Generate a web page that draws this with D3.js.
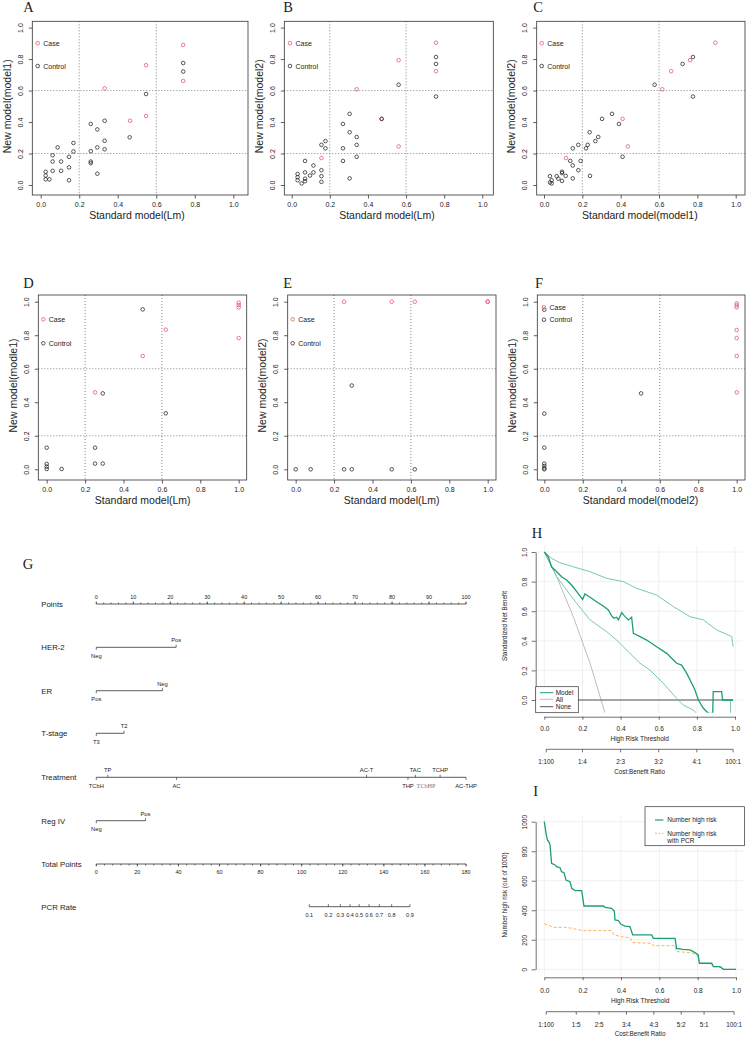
<!DOCTYPE html>
<html>
<head>
<meta charset="utf-8">
<script src="https://cdn.jsdelivr.net/npm/d3@7"></script>
<style>
  body{margin:0;background:#fff}
  svg{display:block;font-family:"Liberation Sans",Arial,sans-serif}
</style>
</head>
<body>
<div id="fig"></div>
<script>
// ---------- scatter panels A–F: [standard model, new model] ----------
const aCase=[[0.74,0.89],[0.547,0.761],[0.74,0.661],[0.332,0.614],[0.464,0.408],[0.547,0.438]];
const aControl=[[0.74,0.775],[0.74,0.721],[0.547,0.578],[0.26,0.388],[0.332,0.408],[0.294,0.353],[0.462,0.303],
  [0.332,0.281],[0.294,0.239],[0.332,0.227],[0.26,0.215],[0.26,0.149],[0.26,0.139],[0.294,0.072],[0.17,0.267],
  [0.17,0.213],[0.088,0.239],[0.147,0.179],[0.062,0.189],[0.062,0.149],[0.106,0.149],[0.106,0.09],[0.062,0.09],
  [0.147,0.112],[0.147,0.03],[0.026,0.084],[0.026,0.06],[0.026,0.036],[0.045,0.036]];

const bCase=[[0.757,0.904],[0.561,0.793],[0.757,0.723],[0.341,0.608],[0.561,0.245],[0.156,0.171],[0.472,0.42]];
const bControl=[[0.757,0.813],[0.757,0.769],[0.561,0.637],[0.757,0.562],[0.472,0.42],[0.304,0.452],[0.269,0.388],
  [0.304,0.335],[0.341,0.305],[0.341,0.255],[0.269,0.233],[0.341,0.179],[0.269,0.153],[0.304,0.042],[0.177,0.279],
  [0.156,0.255],[0.177,0.233],[0.07,0.153],[0.114,0.124],[0.156,0.094],[0.156,0.056],[0.156,0.02],[0.07,0.08],
  [0.114,0.08],[0.096,0.06],[0.07,0.04],[0.07,0.024],[0.052,0.01],[0.031,0.07],[0.031,0.05],[0.031,0.03]];

const cCase=[[0.894,0.904],[0.762,0.793],[0.663,0.723],[0.617,0.608],[0.41,0.42],[0.437,0.245],[0.115,0.171]];
const cControl=[[0.777,0.813],[0.723,0.769],[0.577,0.637],[0.777,0.562],[0.355,0.452],[0.303,0.42],[0.391,0.388],
  [0.238,0.335],[0.283,0.305],[0.268,0.279],[0.228,0.255],[0.41,0.179],[0.179,0.255],[0.15,0.233],[0.219,0.233],
  [0.191,0.153],[0.137,0.153],[0.15,0.124],[0.179,0.094],[0.15,0.042],[0.24,0.058],[0.113,0.058],[0.094,0.076],
  [0.094,0.084],[0.066,0.056],[0.075,0.04],[0.094,0.026],[0.031,0.056],[0.04,0.03],[0.031,0.016],[0.04,0.01]];

const dCase=[[1,0.994],[1,0.98],[1,0.966],[1,0.783],[0.62,0.833],[0.5,0.676],[0.252,0.459]];
const dControl=[[0.5,0.954],[0.292,0.453],[0.62,0.334],[0,0.129],[0.252,0.129],[0.252,0.034],[0.292,0.034],
  [0,0.032],[0,0.016],[0,0.002],[0.078,0.002]];

const eCase=[[0.252,1],[0.5,1],[0.62,1],[1,1],[1,1]];
const eControl=[[0.292,0.5],[0,0],[0.078,0],[0.252,0],[0.292,0],[0.5,0],[0.62,0]];

const fCase=[[1,0.99],[1,0.978],[1,0.966],[1,0.831],[1,0.783],[1,0.676],[1,0.459]];
const fControl=[[0.503,0.453],[0,0.332],[0,0.129],[0,0.034],[0,0.02],[0,0.006],[0,0],[0,0.952]];

const scatterTicks=[0,0.2,0.4,0.6,0.8,1.0];
const refLines=[0.2,0.6];
const legendLabels=["Case","Control"];

// ---------- nomogram G ----------
const pointsTicks=[0,10,20,30,40,50,60,70,80,90,100];
const her2Levels=["Neg","Pos"],       her2Points=[0,21.6];
const erLevels=["Pos","Neg"],         erPoints=[0,17.9];
const tStageLevels=["T3","T2"],       tStagePoints=[0,7.5];
const treatmentLevels=["TCbH","TP","AC","AC-T","THP","TAC","TCbHP","TCHP","AC-THP"];
const treatmentPoints=[0,3.1,21.7,73.1,84.3,86.3,89.2,93,100];
const regIVLevels=["Neg","Pos"],      regIVPoints=[0,13.3];
const totalPointsTicks=[0,20,40,60,80,100,120,140,160,180];
const pcrRates=["0.1","0.2","0.3","0.4","0.5","0.6","0.7","0.8","0.9"];
const pcrTotalPoints=[103.7,113,118.8,123.5,128,132.8,137.8,143.8,152.7];

// ---------- decision curve H ----------
const hModel=[[0,1],[0.021,0.968],[0.038,0.9],[0.065,0.867],[0.091,0.833],[0.117,0.811],[0.143,0.777],[0.17,0.732],
  [0.201,0.68],[0.213,0.716],[0.24,0.694],[0.274,0.664],[0.309,0.635],[0.336,0.608],[0.353,0.568],[0.365,0.552],
  [0.379,0.559],[0.388,0.541],[0.406,0.59],[0.423,0.563],[0.441,0.541],[0.458,0.559],[0.467,0.45],[0.502,0.428],
  [0.537,0.405],[0.589,0.36],[0.642,0.315],[0.677,0.27],[0.694,0.248],[0.72,0.236],[0.747,0.18],[0.773,0.113],
  [0.79,0.068],[0.808,0],[0.834,-0.056],[0.86,-0.09],[0.883,-0.09],[0.886,0.056],[0.93,0.056],[0.935,0],[0.99,0]];
const hUpper=[[0,1],[0.038,0.957],[0.082,0.928],[0.152,0.9],[0.24,0.867],[0.327,0.822],[0.414,0.8],[0.484,0.755],
  [0.589,0.709],[0.677,0.631],[0.764,0.563],[0.834,0.541],[0.904,0.473],[0.965,0.439],[0.983,0.428],[0.99,0.36]];
const hLower=[[0,1],[0.03,0.923],[0.065,0.833],[0.117,0.743],[0.17,0.653],[0.24,0.541],[0.327,0.462],[0.379,0.405],
  [0.449,0.315],[0.502,0.248],[0.554,0.203],[0.624,0.113],[0.694,0.011],[0.729,-0.034],[0.781,-0.068],[0.799,-0.09],
  null,[0.935,0],[0.977,0],[0.977,-0.09]];
const hAll=[[0,1],[0.065,0.833],[0.152,0.563],[0.24,0.248],[0.318,-0.086]];
const hNone=[[0,0],[0.99,0]];
const hLegend=["Model","All","None"];
const hCostBenefit=["1:100","1:4","2:3","3:2","4:1","100:1"];

// ---------- clinical impact I ----------
const iHighRisk=[[0,1000],[0.009,921],[0.016,876],[0.026,858],[0.03,842],[0.038,718],[0.056,707],[0.064,695],
  [0.082,688],[0.09,661],[0.103,655],[0.113,605],[0.134,594],[0.143,549],[0.16,533],[0.195,533],[0.207,429],
  [0.308,429],[0.317,420],[0.351,413],[0.365,395],[0.369,334],[0.386,330],[0.4,305],[0.421,293],[0.447,289],
  [0.461,233],[0.56,233],[0.569,210],[0.682,210],[0.69,142],[0.722,135],[0.76,131],[0.786,113],[0.803,97],
  [0.809,41],[0.873,41],[0.882,18],[0.917,18],[0.934,0],[1,0]];
const iHighRiskPCR=[[0,307],[0.021,300],[0.047,284],[0.117,284],[0.169,271],[0.203,262],[0.273,262],[0.351,262],
  [0.363,233],[0.403,221],[0.447,214],[0.461,181],[0.56,176],[0.569,160],[0.682,160],[0.69,120],[0.76,113],
  [0.795,97],[0.809,41],[0.873,36],[0.882,18],[0.917,14],[0.934,0],[1,0]];
const iLegend=["Number high risk","Number high risk","with PCR"];
const iCostBenefit=["1:100","1:5","2:5","3:4","4:3","5:2","5:1","100:1"];

// ------------------------------------------------------------------
const W=746,H=1038;
const svg=d3.select("#fig").append("svg").attr("width",W).attr("height",H);
const CASE="#DF536B",CONTROL="#222";
const serif='"Liberation Serif","Times New Roman",serif';
const fmt1=d3.format(".1f");

function letter(t,x,y){
  svg.append("text").attr("x",x).attr("y",y).attr("font-family",serif)
    .attr("font-size",14.5).attr("fill","#222").text(t);
}

// ---------- A–F ----------
// top row panels are a little shorter than the bottom row in the source figure
const panels=[
  {id:"A",cs:aCase,ct:aControl,xt:"Standard model(Lm)",yt:"New model(model1)",box:[32.3,21.3,248,195],xr:[40.7,233.3],yr:[185,27.6],lg:[37.7,43.2,66],lt:[23.3,11.8]},
  {id:"B",cs:bCase,ct:bControl,xt:"Standard model(Lm)",yt:"New model(model2)",box:[284.3,21.3,493.3,195],xr:[291.7,482.3],yr:[185,27.6],lg:[290,43.2,66],lt:[283.3,11.8]},
  {id:"C",cs:cCase,ct:cControl,xt:"Standard model(model1)",yt:"New model(model2)",box:[536.7,21.3,745,195],xr:[544,735.7],yr:[185,27.6],lg:[541.7,43.2,66],lt:[533.3,11.8]},
  {id:"D",cs:dCase,ct:dControl,xt:"Standard model(Lm)",yt:"New model(modle1)",box:[38.3,295,246.7,480],xr:[46.7,238.7],yr:[469.3,301.7],lg:[43.3,319.3,343.3],lt:[23.3,288.3]},
  {id:"E",cs:eCase,ct:eControl,xt:"Standard model(Lm)",yt:"New model(model2)",box:[287.7,295,496,480],xr:[295.7,487.7],yr:[469.3,301.7],lg:[292.7,319.3,343.3],lt:[283.3,288.3]},
  {id:"F",cs:fCase,ct:fControl,xt:"Standard model(model2)",yt:"New model(modle1)",box:[537.3,295,745,480],xr:[544.3,736.7],yr:[469.3,301.7],lg:[544,307.3,319.7],lt:[535,288.3]}
];

panels.forEach(p=>{
  const [l,t,r,b]=p.box;
  const x=d3.scaleLinear([0,1],p.xr), y=d3.scaleLinear([0,1],p.yr);
  const g=svg.append("g");

  refLines.forEach(v=>{
    g.append("line").attr("x1",x(v)).attr("x2",x(v)).attr("y1",t).attr("y2",b)
      .attr("stroke","#777").attr("stroke-width",0.9).attr("stroke-dasharray","1,2");
    g.append("line").attr("x1",l).attr("x2",r).attr("y1",y(v)).attr("y2",y(v))
      .attr("stroke","#777").attr("stroke-width",0.9).attr("stroke-dasharray","1,2");
  });
  g.append("rect").attr("x",l).attr("y",t).attr("width",r-l).attr("height",b-t)
    .attr("fill","none").attr("stroke","#333").attr("stroke-width",0.8);

  const xa=g.append("g").attr("transform",`translate(0,${b})`)
    .call(d3.axisBottom(x).tickValues(scatterTicks).tickFormat(fmt1).tickSize(3.5).tickSizeOuter(0));
  xa.selectAll("text").attr("font-size",7).attr("fill","#222").attr("y",7.5).attr("dy","0.71em");
  const ya=g.append("g").attr("transform",`translate(${l},0)`)
    .call(d3.axisLeft(y).tickValues(scatterTicks).tickFormat(fmt1).tickSize(3.5).tickSizeOuter(0));
  ya.selectAll("text").attr("font-size",7).attr("fill","#222")
    .attr("transform","rotate(-90)").attr("x",0).attr("y",-9.5).attr("dy",0).attr("text-anchor","middle");
  [xa,ya].forEach(a=>{a.selectAll("path,line").attr("stroke","#333").attr("stroke-width",0.8);a.select(".domain").remove();});

  g.selectAll(".case").data(p.cs).join("circle").attr("class","case")
    .attr("cx",d=>x(d[0])).attr("cy",d=>y(d[1])).attr("r",1.8)
    .attr("fill","none").attr("stroke",CASE).attr("stroke-width",0.75);
  g.selectAll(".ctrl").data(p.ct).join("circle").attr("class","ctrl")
    .attr("cx",d=>x(d[0])).attr("cy",d=>y(d[1])).attr("r",1.8)
    .attr("fill","none").attr("stroke",CONTROL).attr("stroke-width",0.75);

  legendLabels.forEach((lab,i)=>{
    const ly=p.lg[1+i];
    g.append("circle").attr("cx",p.lg[0]).attr("cy",ly).attr("r",1.8)
      .attr("fill","none").attr("stroke",i?CONTROL:CASE).attr("stroke-width",0.75);
    g.append("text").attr("x",p.lg[0]+5.5).attr("y",ly+2.5).attr("font-size",7).attr("fill","#222").text(lab);
  });

  g.append("text").attr("x",(p.xr[0]+p.xr[1])/2).attr("y",b+23.5).attr("text-anchor","middle")
    .attr("font-size",10.5).attr("fill","#222").text(p.xt);
  g.append("text").attr("transform",`translate(${l-21.3},${(p.yr[0]+p.yr[1])/2}) rotate(-90)`)
    .attr("text-anchor","middle").attr("font-size",10.5).attr("fill","#222").text(p.yt);
  letter(p.id,p.lt[0],p.lt[1]);
});

// ---------- G nomogram ----------
letter("G",22.7,569);
const nomo=svg.append("g");
const px=d3.scaleLinear([0,100],[96.3,466]);
const tx=d3.scaleLinear([0,180],[96.3,466]);
const INK="#333";

function rowLabel(t,y){
  nomo.append("text").attr("x",41.3).attr("y",y+2.8).attr("font-size",7.8).attr("fill","#222").text(t);
}
function hline(x1,x2,y){
  nomo.append("line").attr("x1",x1).attr("x2",x2).attr("y1",y).attr("y2",y).attr("stroke",INK).attr("stroke-width",0.8);
}
function tick(x,y,len){
  nomo.append("line").attr("x1",x).attr("x2",x).attr("y1",y).attr("y2",y+len).attr("stroke",INK).attr("stroke-width",0.7);
}

// Points scale
const yPts=604;
rowLabel("Points",yPts);
hline(px(0),px(100),yPts);
d3.range(0,101,2).forEach(v=>tick(px(v),yPts,-1.5));
pointsTicks.forEach(v=>{
  tick(px(v),yPts,-2.5);
  nomo.append("text").attr("x",px(v)).attr("y",yPts-5).attr("text-anchor","middle")
    .attr("font-size",5.5).attr("fill","#222").text(v);
});

function factorRow(name,levels,pts,y){
  rowLabel(name,y);
  hline(px(d3.min(pts)),px(d3.max(pts)),y);
  levels.forEach((lev,i)=>{
    const up=i%2===1;
    const special=lev==="TCbHP";
    if(!special) tick(px(pts[i]),y,up?-2.5:2.5);
    nomo.append("text").attr("x",px(pts[i])).attr("y",up?y-5:y+10.7)
      .attr("text-anchor","middle")
      .attr("font-family",special?serif:null)
      .attr("font-size",special?6.2:5.8)
      .attr("fill",special?"#6a7690":"#222").text(lev);
  });
}
factorRow("HER-2",her2Levels,her2Points,647.3);
factorRow("ER",erLevels,erPoints,690.7);
factorRow("T-stage",tStageLevels,tStagePoints,733.3);
factorRow("Treatment",treatmentLevels,treatmentPoints,777.3);
factorRow("Reg IV",regIVLevels,regIVPoints,820.7);

// Total points
const yTot=864;
rowLabel("Total Points",yTot);
hline(tx(0),tx(180),yTot);
d3.range(0,181,4).forEach(v=>tick(tx(v),yTot,1.5));
totalPointsTicks.forEach(v=>{
  tick(tx(v),yTot,2.5);
  nomo.append("text").attr("x",tx(v)).attr("y",yTot+10).attr("text-anchor","middle")
    .attr("font-size",5.5).attr("fill","#222").text(v);
});

// PCR rate
const yPcr=906.7;
rowLabel("PCR Rate",yPcr);
hline(tx(d3.min(pcrTotalPoints)),tx(d3.max(pcrTotalPoints)),yPcr);
pcrRates.forEach((r,i)=>{
  tick(tx(pcrTotalPoints[i]),yPcr,-2.5);
  nomo.append("text").attr("x",tx(pcrTotalPoints[i])).attr("y",yPcr+10.3).attr("text-anchor","middle")
    .attr("font-size",5.5).attr("fill","#222").text(r);
});

// ---------- shared helpers for H and I ----------
const GRID="#ececec";
const ratioPos=s=>{const [a,b]=s.split(":").map(Number);return a/(a+b);};

function thresholdAxes(g,x,yAxisLine,labelY,titleY,cbLine,cbLabels,cbLabelY,cbTitleY){
  const xa=g.append("g").attr("transform",`translate(0,${yAxisLine})`)
    .call(d3.axisBottom(x).tickValues([0,0.2,0.4,0.6,0.8,1]).tickFormat(fmt1).tickSize(3).tickSizeOuter(0));
  xa.selectAll("text").attr("font-size",6.5).attr("fill","#222").attr("y",labelY-yAxisLine).attr("dy","0.35em");
  xa.selectAll("path,line").attr("stroke","#333").attr("stroke-width",0.7);
  g.append("text").attr("x",(x(0)+x(1))/2).attr("y",titleY+2.3).attr("text-anchor","middle")
    .attr("font-size",6.5).attr("fill","#222").text("High Risk Threshold");

  const cb=g.append("g").attr("transform",`translate(0,${cbLine})`);
  const pos=cbLabels.map(s=>Math.min(Math.max(ratioPos(s),0.01),0.99));
  cb.append("line").attr("x1",x(d3.min(pos))).attr("x2",x(d3.max(pos)))
    .attr("stroke","#333").attr("stroke-width",0.7);
  cbLabels.forEach((s,i)=>{
    cb.append("line").attr("x1",x(pos[i])).attr("x2",x(pos[i])).attr("y1",0).attr("y2",3)
      .attr("stroke","#333").attr("stroke-width",0.7);
    cb.append("text").attr("x",x(pos[i])).attr("y",cbLabelY-cbLine+2.3).attr("text-anchor","middle")
      .attr("font-size",6.3).attr("fill","#222").text(s);
  });
  g.append("text").attr("x",(x(0)+x(1))/2).attr("y",cbTitleY+2.3).attr("text-anchor","middle")
    .attr("font-size",6.3).attr("fill","#222").text("Cost:Benefit Ratio");
}

// ---------- H decision curve ----------
letter("H",531.7,538.3);
{
  const g=svg.append("g");
  const x=d3.scaleLinear([0,1],[544.3,735]);
  const y=d3.scaleLinear([0,1],[700,552]);
  const xl=-0.04,xh=1.04,yl=-0.086,yh=1.04;
  [0,0.2,0.4,0.6,0.8,1].forEach(v=>{
    g.append("line").attr("x1",x(v)).attr("x2",x(v)).attr("y1",y(yl)).attr("y2",y(yh)).attr("stroke",GRID).attr("stroke-width",0.8);
    g.append("line").attr("x1",x(xl)).attr("x2",x(xh)).attr("y1",y(v)).attr("y2",y(v)).attr("stroke",GRID).attr("stroke-width",0.8);
  });
  svg.append("clipPath").attr("id","clipH").append("rect")
    .attr("x",x(xl)).attr("y",y(yh)).attr("width",x(xh)-x(xl)).attr("height",y(yl)-y(yh));
  const line=d3.line().defined(d=>d!==null).x(d=>x(d[0])).y(d=>y(d[1]));
  const pl=g.append("g").attr("clip-path","url(#clipH)");
  pl.append("path").attr("d",line(hAll)).attr("fill","none").attr("stroke","#bdbdbd").attr("stroke-width",1);
  pl.append("path").attr("d",line(hNone)).attr("fill","none").attr("stroke","#555").attr("stroke-width",1);
  pl.append("path").attr("d",line(hUpper)).attr("fill","none").attr("stroke","#66c2a5").attr("stroke-width",0.9);
  pl.append("path").attr("d",line(hLower)).attr("fill","none").attr("stroke","#66c2a5").attr("stroke-width",0.9);
  pl.append("path").attr("d",line(hModel)).attr("fill","none").attr("stroke","#1b9e77").attr("stroke-width",1.3);

  const ya=g.append("g").attr("transform","translate(535.7,0)")
    .call(d3.axisLeft(y).tickValues([0,0.2,0.4,0.6,0.8,1]).tickFormat(fmt1).tickSize(4).tickSizeOuter(0));
  ya.selectAll("text").attr("font-size",6.5).attr("fill","#222")
    .attr("transform","rotate(-90)").attr("x",0).attr("y",-8.5).attr("dy",0).attr("text-anchor","middle");
  ya.selectAll("path,line").attr("stroke","#333").attr("stroke-width",0.7);
  g.append("text").attr("transform","translate(507.2,626) rotate(-90)").attr("text-anchor","middle")
    .attr("font-size",6.3).attr("fill","#222").text("Standardized Net Benefit");

  thresholdAxes(g,x,716.7,728.3,738.3,749.3,hCostBenefit,761.7,771.7);

  // legend
  g.append("rect").attr("x",535.7).attr("y",686.7).attr("width",42.6).attr("height",26)
    .attr("fill","#fff").attr("stroke","#333").attr("stroke-width",0.7);
  const lc=["#1b9e77","#bdbdbd","#555"], ly=[692.7,699.3,706.7];
  hLegend.forEach((t,i)=>{
    g.append("line").attr("x1",540).attr("x2",553.3).attr("y1",ly[i]).attr("y2",ly[i])
      .attr("stroke",lc[i]).attr("stroke-width",1);
    g.append("text").attr("x",555.7).attr("y",ly[i]+2.2).attr("font-size",6.5).attr("fill","#222").text(t);
  });
}

// ---------- I clinical impact ----------
letter("I",533.3,796);
{
  const g=svg.append("g");
  const x=d3.scaleLinear([0,1],[544.3,736]);
  const y=d3.scaleLinear([0,1000],[969.3,821.7]);
  const xl=-0.04,xh=1.04,yl=-40,yh=1040;
  [0,0.2,0.4,0.6,0.8,1].forEach(v=>{
    g.append("line").attr("x1",x(v)).attr("x2",x(v)).attr("y1",y(yl)).attr("y2",y(yh)).attr("stroke",GRID).attr("stroke-width",0.8);
  });
  [0,200,400,600,800,1000].forEach(v=>{
    g.append("line").attr("x1",x(xl)).attr("x2",x(xh)).attr("y1",y(v)).attr("y2",y(v)).attr("stroke",GRID).attr("stroke-width",0.8);
  });
  const line=d3.line().x(d=>x(d[0])).y(d=>y(d[1]));
  g.append("path").attr("d",line(iHighRiskPCR)).attr("fill","none").attr("stroke","#f7b55a")
    .attr("stroke-width",1).attr("stroke-dasharray","3,2");
  g.append("path").attr("d",line(iHighRisk)).attr("fill","none").attr("stroke","#1b9e77").attr("stroke-width",1.3);

  const ya=g.append("g").attr("transform","translate(535.7,0)")
    .call(d3.axisLeft(y).tickValues([0,200,400,600,800,1000]).tickFormat(d3.format("d")).tickSize(4).tickSizeOuter(0));
  ya.selectAll("text").attr("font-size",6.5).attr("fill","#222")
    .attr("transform","rotate(-90)").attr("x",0).attr("y",-8.5).attr("dy",0).attr("text-anchor","middle");
  ya.selectAll("path,line").attr("stroke","#333").attr("stroke-width",0.7);
  g.append("text").attr("transform","translate(507.2,895) rotate(-90)").attr("text-anchor","middle")
    .attr("font-size",6.3).attr("fill","#222").text("Number high risk (out of 1000)");

  thresholdAxes(g,x,977.3,990.7,1000.7,1011.7,iCostBenefit,1025,1033.3);

  // legend
  g.append("rect").attr("x",645).attr("y",806.7).attr("width",99.5).attr("height",39)
    .attr("fill","#fff").attr("stroke","#333").attr("stroke-width",0.7);
  g.append("line").attr("x1",655).attr("x2",663.3).attr("y1",820).attr("y2",820)
    .attr("stroke","#1b9e77").attr("stroke-width",1.2);
  g.append("line").attr("x1",655).attr("x2",663.3).attr("y1",833.3).attr("y2",833.3)
    .attr("stroke","#f7b55a").attr("stroke-width",1).attr("stroke-dasharray","2,1.5");
  g.append("text").attr("x",667.3).attr("y",822.3).attr("font-size",6.5).attr("fill","#222").text(iLegend[0]);
  g.append("text").attr("x",667.3).attr("y",835.6).attr("font-size",6.5).attr("fill","#222").text(iLegend[1]);
  g.append("text").attr("x",667.3).attr("y",843).attr("font-size",6.5).attr("fill","#222").text(iLegend[2]);
}
</script>
</body>
</html>
